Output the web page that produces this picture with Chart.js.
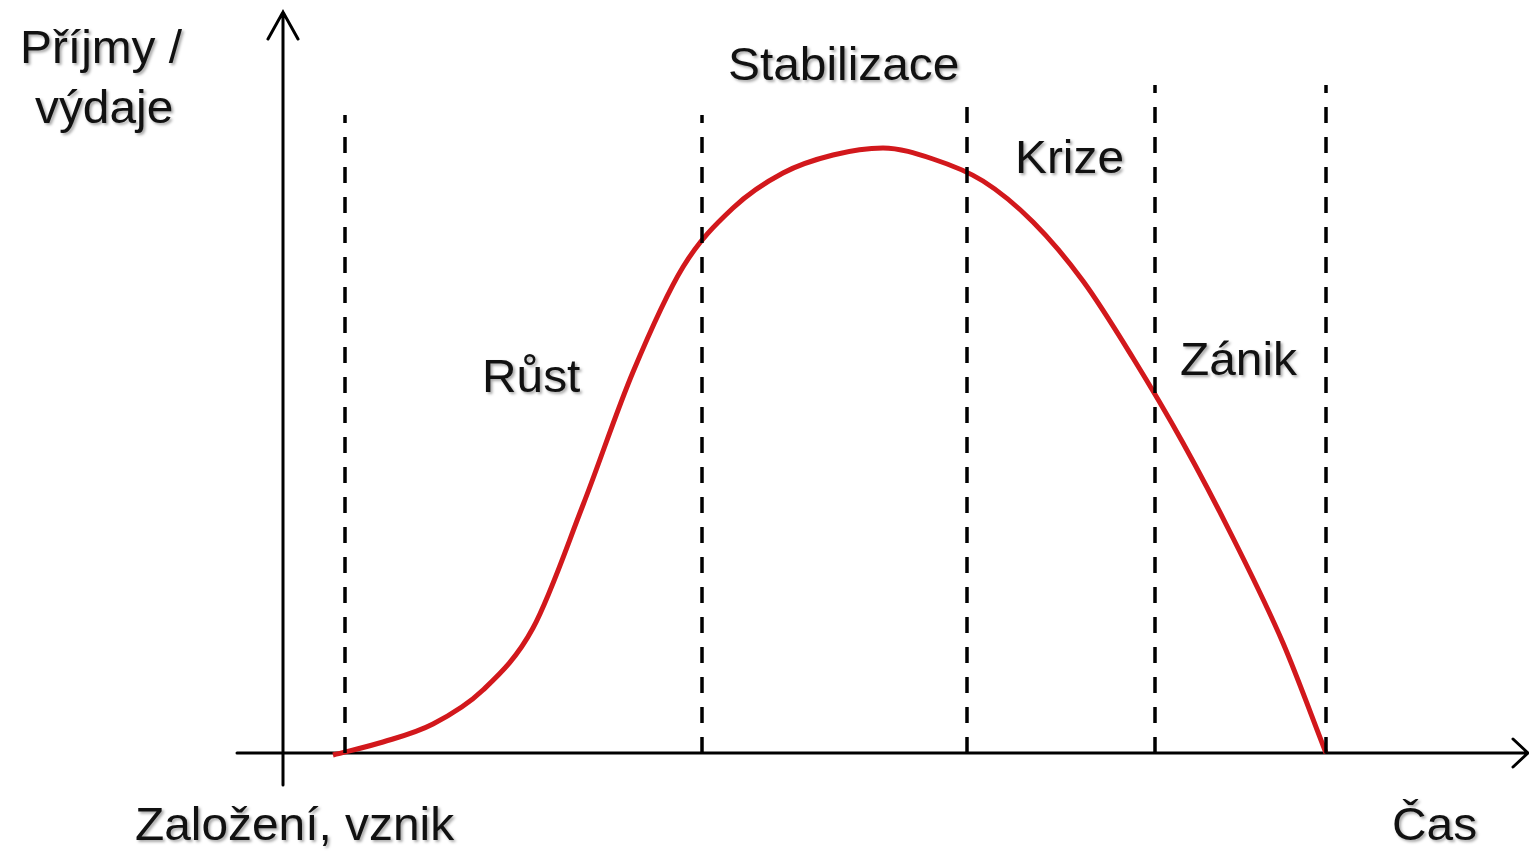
<!DOCTYPE html>
<html>
<head>
<meta charset="utf-8">
<script src="https://cdn.jsdelivr.net/npm/chart.js@4/dist/chart.umd.min.js"></script>
<style>
  html, body { margin: 0; padding: 0; background: #fff; }
  #wrap { width: 1529px; height: 854px; }
</style>
</head>
<body>
<div id="wrap"><canvas id="lifeChart" width="1529" height="854"></canvas></div>
<script>
// curve: time vs. income/expenses (arbitrary units, origin at the axes crossing)
var curveX = [0.5, 1.0, 1.5, 2.0, 2.5, 3.0, 3.5, 4.0, 4.5, 5.0, 5.5, 6.0, 6.5, 7.0, 7.5, 8.0, 8.5, 9.0, 9.5, 10.0, 10.43];
var curveY = [-0.02, 0.11, 0.29, 0.63, 1.25, 2.48, 3.81, 4.86, 5.45, 5.80, 5.98, 6.05, 5.94, 5.72, 5.31, 4.72, 3.95, 3.10, 2.15, 1.10, 0.00];

// phase boundaries (dashed lines) and how high each one reaches
var phaseX = [0.62, 4.19, 6.84, 8.72, 10.43];
var phaseTop = [6.38, 6.38, 6.53, 6.68, 6.68];

// texts
var phaseNames = ['Růst', 'Stabilizace', 'Krize', 'Zánik'];
var yAxisTitle = ['Příjmy /', 'výdaje'];
var startLabel = 'Založení, vznik';
var xAxisTitle = 'Čas';

// build datasets (first one ends up on top)
var datasets = [];
phaseX.forEach(function (x, i) {
  datasets.push({
    data: [{ x: x, y: 0 }, { x: x, y: phaseTop[i] }],
    borderColor: '#000',
    borderWidth: 3.5,
    borderDash: [16, 14],
    pointRadius: 0,
    tension: 0
  });
});
datasets.push({
  data: curveX.map(function (x, i) { return { x: x, y: curveY[i] }; }),
  borderColor: '#d2181c',
  borderWidth: 5,
  pointRadius: 0,
  cubicInterpolationMode: 'monotone'
});

// axes with arrow heads, drawn under the datasets
var axesPlugin = {
  id: 'axes',
  beforeDatasetsDraw: function (chart) {
    var c = chart.ctx, sx = chart.scales.x, sy = chart.scales.y;
    var x0 = sx.getPixelForValue(0), y0 = sy.getPixelForValue(0);
    var yTop = sy.getPixelForValue(7.41), yBot = sy.getPixelForValue(-0.32);
    var xLeft = sx.getPixelForValue(-0.46), xRight = sx.getPixelForValue(12.45);
    c.save();
    c.strokeStyle = '#000';
    c.lineWidth = 3;
    c.lineCap = 'round';
    c.beginPath();
    c.moveTo(x0, yBot); c.lineTo(x0, yTop);
    c.moveTo(x0 - 15, yTop + 27); c.lineTo(x0, yTop); c.lineTo(x0 + 15, yTop + 27);
    c.moveTo(xLeft, y0); c.lineTo(xRight, y0);
    c.moveTo(xRight - 15, y0 - 14); c.lineTo(xRight, y0); c.lineTo(xRight - 15, y0 + 14);
    c.stroke();
    c.restore();
  }
};

// text labels, positions in data units
var textPlugin = {
  id: 'texts',
  afterDatasetsDraw: function (chart) {
    var c = chart.ctx, sx = chart.scales.x, sy = chart.scales.y;
    var items = [
      [yAxisTitle[0], -2.63, 6.90],
      [yAxisTitle[1], -2.48, 6.30],
      [phaseNames[0], 1.99, 3.61],
      [phaseNames[1], 4.45, 6.73],
      [phaseNames[2], 7.32, 5.80],
      [phaseNames[3], 8.97, 3.78],
      [startLabel, -1.48, -0.87],
      [xAxisTitle, 11.09, -0.87]
    ];
    c.save();
    c.font = '46px "Liberation Sans", Arial, sans-serif';
    c.fillStyle = '#111';
    c.textBaseline = 'alphabetic';
    c.textAlign = 'left';
    c.shadowColor = 'rgba(0,0,0,0.35)';
    c.shadowOffsetX = 2;
    c.shadowOffsetY = 2;
    c.shadowBlur = 3;
    items.forEach(function (t) {
      c.save();
      c.translate(sx.getPixelForValue(t[1]), sy.getPixelForValue(t[2]));
      c.scale(1.04, 1);
      c.fillText(t[0], 0, 0);
      c.restore();
    });
    c.restore();
  }
};

var ctx = document.getElementById('lifeChart').getContext('2d');
var chart = new Chart(ctx, {
  type: 'line',
  data: { datasets: datasets },
  options: {
    responsive: false,
    animation: false,
    layout: { padding: 0 },
    plugins: { legend: { display: false }, tooltip: { enabled: false } },
    scales: {
      x: { type: 'linear', min: -2.83, max: 12.46, display: false },
      y: { type: 'linear', min: -1.01, max: 7.53, display: false }
    }
  },
  plugins: [axesPlugin, textPlugin]
});
</script>
</body>
</html>
